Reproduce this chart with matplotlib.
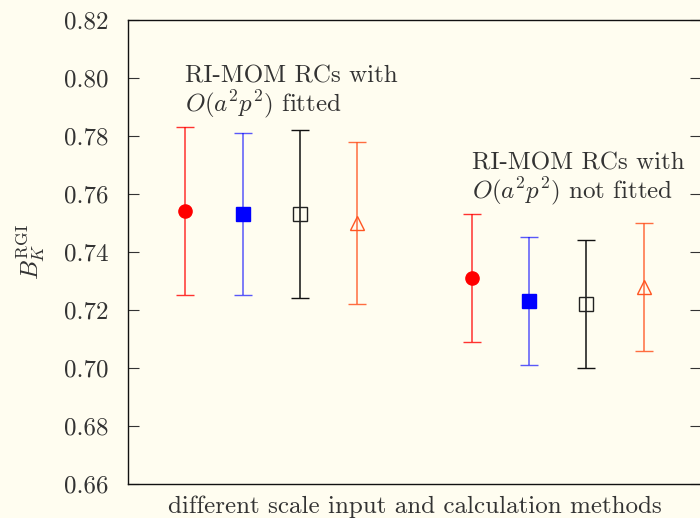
import matplotlib
matplotlib.use("Agg")
import matplotlib.pyplot as plt

plt.rcParams["font.family"] = "cmr10"
plt.rcParams["mathtext.fontset"] = "cm"
plt.rcParams["axes.formatter.use_mathtext"] = True

# B_K^RGI for the two renormalisation-constant treatments
positions = [1, 2, 3, 4, 6, 7, 8, 9]
values = [0.754, 0.753, 0.753, 0.750, 0.731, 0.723, 0.722, 0.728]
errors = [0.029, 0.028, 0.029, 0.028, 0.022, 0.022, 0.022, 0.022]
group_labels = [
    ("RI-MOM RCs with", r"$O(a^2p^2)$ fitted"),
    ("RI-MOM RCs with", r"$O(a^2p^2)$ not fitted"),
]
yticks = [0.66, 0.68, 0.70, 0.72, 0.74, 0.76, 0.78, 0.80, 0.82]

bg = "#fffdf0"
txt = "#333333"
fs = 18
styles = [
    dict(marker="o", mfc="#ff0000", mec="#ff0000", ecolor=(1, 0, 0, 0.8)),
    dict(marker="s", mfc="#0000ff", mec="#0000ff", ecolor=(0, 0, 1, 0.65)),
    dict(marker="s", mfc="none", mec="#222222", ecolor="#111111"),
    dict(marker="^", mfc="none", mec="#ff5522", ecolor=(1, 0.33, 0.13, 0.85)),
]

fig = plt.figure(figsize=(7.0, 5.18), dpi=100, facecolor=bg)
ax = fig.add_axes([128 / 700, 1 - 484 / 518, (701 - 128) / 700, (484 - 20) / 518])
ax.set_facecolor(bg)

for i, (x, v, e) in enumerate(zip(positions, values, errors)):
    st = styles[i % 4]
    ax.errorbar([x], [v], yerr=[e], fmt=st["marker"], ms=9.5 if st["marker"] != "^" else 10,
                mfc=st["mfc"], mec=st["mec"], mew=1.0, ecolor=st["ecolor"],
                elinewidth=1.1, capsize=6.5, capthick=1.1, zorder=3)

ax.set_xlim(0, 10)
ax.set_ylim(0.66, 0.82)
ax.set_xticks([])
ax.set_yticks(yticks)
ax.set_yticklabels([f"{t:.2f}" for t in yticks])
ax.tick_params(axis="y", direction="in", length=8, width=0.8, right=True,
               labelsize=fs, labelcolor=txt, color="#333333", pad=14)
for sp in ax.spines.values():
    sp.set_linewidth(1.0)
    sp.set_color("#111111")

ax.text(1, 0.7983, group_labels[0][0], fontsize=fs, color=txt, ha="left", va="baseline")
ax.text(1, 0.7886, group_labels[0][1], fontsize=fs, color=txt, ha="left", va="baseline")
ax.text(6, 0.7683, group_labels[1][0], fontsize=fs, color=txt, ha="left", va="baseline")
ax.text(6, 0.7586, group_labels[1][1], fontsize=fs, color=txt, ha="left", va="baseline")

ax.set_xlabel("different scale input and calculation methods", fontsize=fs, color=txt, labelpad=8)
ax.set_ylabel(r"$B_K^{\rm RGI}$", fontsize=fs, color=txt, labelpad=12)

fig.savefig("out.png", dpi=100, facecolor=bg)
